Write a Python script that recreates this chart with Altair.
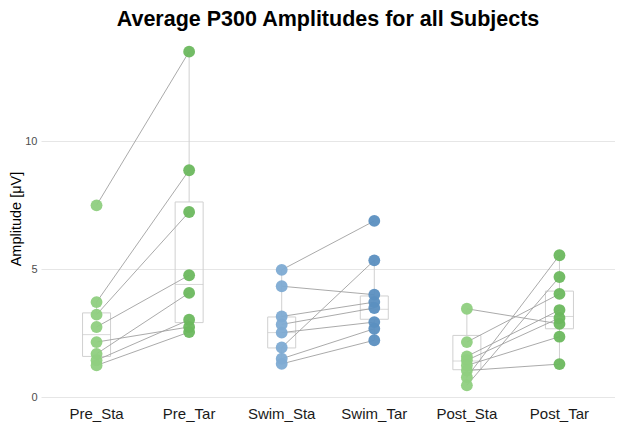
import altair as alt
import pandas as pd

conds = ["Pre_Sta", "Pre_Tar", "Swim_Sta", "Swim_Tar", "Post_Sta", "Post_Tar"]

# per-subject values (same subject order within each phase pair)
pre_sta = [7.50, 3.72, 3.23, 2.75, 1.70, 2.16, 1.45, 1.25]
pre_tar = [13.50, 8.87, 7.24, 4.77, 4.08, 2.75, 3.03, 2.55]
swim_sta = [4.98, 4.34, 3.16, 2.85, 2.53, 1.95, 1.51, 1.31]
swim_tar = [6.89, 4.01, 3.72, 3.49, 2.94, 5.35, 2.68, 2.23]
post_sta = [3.46, 2.16, 1.60, 1.45, 1.25, 1.05, 0.79, 0.47]
post_tar = [2.87, 4.04, 3.41, 3.10, 2.37, 1.30, 5.55, 4.70]

# box summaries
box_lo = [1.25, 2.55, 1.31, 2.23, 0.47, 1.30]
box_q1 = [1.60, 2.92, 1.93, 3.05, 1.08, 2.68]
box_med = [2.45, 4.41, 2.53, 3.44, 1.42, 3.16]
box_q3 = [3.30, 7.63, 3.14, 3.96, 2.42, 4.15]
box_hi = [3.72, 13.50, 4.98, 5.35, 3.46, 5.55]

point_colors = ["#8fcf80", "#6cb85e", "#7eabd3", "#5b8fc0", "#8fcf80", "#6cb85e"]

series = {
    "Pre_Sta": pre_sta, "Pre_Tar": pre_tar,
    "Swim_Sta": swim_sta, "Swim_Tar": swim_tar,
    "Post_Sta": post_sta, "Post_Tar": post_tar,
}
rows = []
for c, vals in series.items():
    phase = c.split("_")[0]
    for i, v in enumerate(vals):
        rows.append({"cond": c, "value": v, "pair": f"{phase}_{i}"})
pts = pd.DataFrame(rows)

box = pd.DataFrame({"cond": conds, "lo": box_lo, "q1": box_q1, "med": box_med,
                    "q3": box_q3, "hi": box_hi})

xscale = alt.Scale(domain=conds, paddingInner=0, paddingOuter=0.1)
xenc = alt.X("cond:N", scale=xscale, sort=conds, title="",
             axis=alt.Axis(labelAngle=0, labelFontSize=15, labelColor="#1a1a1a",
                           domain=False, ticks=False, labelPadding=4,
                           labelFont="Liberation Sans"))
yscale = alt.Scale(domain=[-0.18, 14.15], nice=False, zero=False)
yaxis = alt.Axis(values=[0, 5, 10], grid=True, gridColor="#e6e6e6", domain=False,
                 ticks=False, labelColor="#4d4d4d", labelFontSize=11,
                 labelPadding=4, title="Amplitude [μV]", titleFontSize=14.5,
                 titleFontWeight="normal", titleColor="#000000", titlePadding=1,
                 labelFont="Liberation Sans", titleFont="Liberation Sans")

base_box = alt.Chart(box)

whisk_up = base_box.mark_rule(color="#d0d0d0", strokeWidth=1).encode(
    x=xenc, y=alt.Y("q3:Q", scale=yscale, axis=yaxis), y2="hi:Q")
whisk_dn = base_box.mark_rule(color="#d0d0d0", strokeWidth=1).encode(
    x=xenc, y=alt.Y("lo:Q", scale=yscale), y2="q1:Q")
boxes = base_box.mark_bar(width=28, fillOpacity=0, stroke="#d0d0d0", strokeWidth=1).encode(
    x=xenc, y=alt.Y("q1:Q", scale=yscale), y2="q3:Q")
medians = base_box.mark_tick(size=28, thickness=1, color="#c8c8c8").encode(
    x=xenc, y=alt.Y("med:Q", scale=yscale))

lines = alt.Chart(pts).mark_line(color="#a0a0a0", strokeWidth=0.9).encode(
    x=xenc, y=alt.Y("value:Q", scale=yscale), detail="pair:N")

points = alt.Chart(pts).mark_circle(size=140, opacity=0.95).encode(
    x=xenc, y=alt.Y("value:Q", scale=yscale),
    color=alt.Color("cond:N", scale=alt.Scale(domain=conds, range=point_colors), legend=None))

chart = alt.layer(whisk_up, whisk_dn, boxes, medians, lines, points).properties(
    width=574, height=367,
    autosize=alt.AutoSizeParams(type="none"),
    padding={"left": 33, "top": 27, "right": 0, "bottom": 26},
    title=alt.TitleParams("Average P300 Amplitudes for all Subjects", fontSize=21.5,
                          fontWeight="bold", anchor="middle", offset=5,
                          font="Liberation Sans", color="#000000"),
).configure_view(stroke=None)

chart.save("out.html", embed_options={"renderer": "svg", "actions": False})
